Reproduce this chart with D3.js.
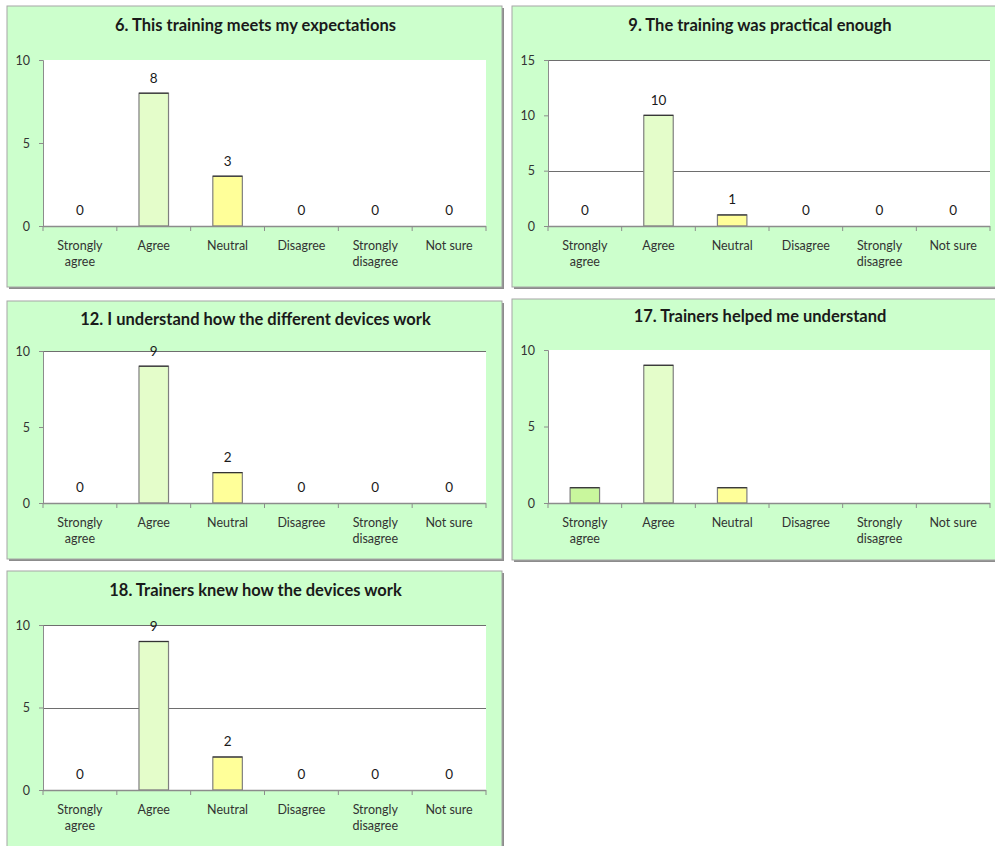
<!DOCTYPE html>
<html>
<head>
<meta charset="utf-8">
<script src="https://cdn.jsdelivr.net/npm/d3@7"></script>
<style>
  html, body { margin: 0; padding: 0; background: #ffffff; }
  svg { display: block; }
</style>
</head>
<body>
<svg id="chart" width="995" height="846"></svg>
<script>
// ---- DATA ----
const categories = ["Strongly agree", "Agree", "Neutral", "Disagree", "Strongly disagree", "Not sure"];
const titles = [
  "6. This training meets my expectations",
  "9. The training was practical enough",
  "12. I understand how the different devices work",
  "17. Trainers helped me understand",
  "18. Trainers knew how the devices work"
];
const values6  = [0, 8, 3, 0, 0, 0];
const values9  = [0, 10, 1, 0, 0, 0];
const values12 = [0, 9, 2, 0, 0, 0];
const values17 = [1, 9, 1, 0, 0, 0];
const values18 = [0, 9, 2, 0, 0, 0];
const yMax = [10, 15, 10, 10, 10];
const yTicks = [[0, 5, 10], [0, 5, 10, 15], [0, 5, 10], [0, 5, 10], [0, 5, 10]];
const gridValues = [[], [5, 15], [10], [], [5, 10]];
const showLabels = [true, true, true, false, true];

// ---- LAYOUT / STYLE ----
const series = [values6, values9, values12, values17, values18];
const panels = [
  {x: 7,   y: 6,   w: 495, h: 281, plot: {l: 43,  r: 486, t: 60,  b: 226}, titleY: 27},
  {x: 512, y: 6,   w: 490, h: 281, plot: {l: 548, r: 990, t: 60,  b: 226}, titleY: 27},
  {x: 7,   y: 301, w: 495, h: 258, plot: {l: 43,  r: 486, t: 351, b: 503}, titleY: 321},
  {x: 512, y: 299, w: 490, h: 261, plot: {l: 548, r: 990, t: 350, b: 503}, titleY: 318},
  {x: 7,   y: 571, w: 495, h: 290, plot: {l: 43,  r: 486, t: 625, b: 790}, titleY: 592}
];
const barColors = ["#c9f79d", "#e4fdca", "#ffff99", "#e4fdca", "#e4fdca", "#e4fdca"];
const FONT = "Lato, 'Open Sans', sans-serif";

function labelLines(s) {
  if (s.length <= 9) return [s];
  const i = s.indexOf(" ");
  return [s.slice(0, i), s.slice(i + 1)];
}

const svg = d3.select("#chart");

panels.forEach((p, i) => {
  const g = svg.append("g");
  // panel background & border with shadow
  g.append("rect").attr("x", p.x + 2).attr("y", p.y + 2).attr("width", p.w).attr("height", p.h)
    .attr("fill", "#8c8c8c");
  g.append("rect").attr("x", p.x).attr("y", p.y).attr("width", p.w).attr("height", p.h)
    .attr("fill", "#ccffcc").attr("stroke", "#a6a6a6").attr("stroke-width", 1);

  // title
  g.append("text").attr("x", (p.plot.l + p.plot.r) / 2 - 9).attr("y", p.titleY)
    .attr("text-anchor", "middle").attr("dominant-baseline", "middle")
    .attr("font-family", FONT).attr("font-weight", "bold").attr("font-size", 16.5)
    .attr("fill", "#1a1a1a").text(titles[i]);

  const x = d3.scaleBand().domain(categories).range([p.plot.l, p.plot.r]).paddingInner(0).paddingOuter(0);
  const y = d3.scaleLinear().domain([0, yMax[i]]).range([p.plot.b, p.plot.t]);

  // plot area
  g.append("rect").attr("x", p.plot.l).attr("y", p.plot.t)
    .attr("width", p.plot.r - p.plot.l).attr("height", p.plot.b - p.plot.t).attr("fill", "#ffffff");

  // gridlines
  g.selectAll(".grid").data(gridValues[i]).enter().append("line")
    .attr("x1", p.plot.l).attr("x2", p.plot.r)
    .attr("y1", d => Math.round(y(d)) + 0.5).attr("y2", d => Math.round(y(d)) + 0.5)
    .attr("stroke", "#6e6e6e").attr("stroke-width", 1.2);

  // bars
  const bw = x.bandwidth() * 0.4;
  const data = series[i].map((v, k) => ({c: categories[k], v: v, k: k}));
  g.selectAll(".bar").data(data.filter(d => d.v > 0)).enter().append("rect")
    .attr("x", d => x(d.c) + (x.bandwidth() - bw) / 2)
    .attr("y", d => y(d.v))
    .attr("width", bw)
    .attr("height", d => y(0) - y(d.v))
    .attr("fill", d => barColors[d.k])
    .attr("stroke", "#7f7f7f").attr("stroke-width", 1.2);
  g.selectAll(".bartop").data(data.filter(d => d.v > 0)).enter().append("line")
    .attr("x1", d => x(d.c) + (x.bandwidth() - bw) / 2)
    .attr("x2", d => x(d.c) + (x.bandwidth() + bw) / 2)
    .attr("y1", d => y(d.v)).attr("y2", d => y(d.v))
    .attr("stroke", "#333333").attr("stroke-width", 1.2);

  // value labels
  if (showLabels[i]) {
    g.selectAll(".vlab").data(data).enter().append("text")
      .attr("x", d => x(d.c) + x.bandwidth() / 2)
      .attr("y", d => y(d.v) - 14)
      .attr("text-anchor", "middle").attr("dominant-baseline", "middle")
      .attr("font-family", FONT).attr("font-size", 13.5).attr("fill", "#1a1a1a")
      .text(d => d.v);
  }

  // y axis
  const yAxis = d3.axisLeft(y).tickValues(yTicks[i]).tickSize(4).tickPadding(9);
  const ya = g.append("g").attr("transform", `translate(${p.plot.l},0)`).call(yAxis);
  ya.select(".domain").attr("stroke", "#8c8c8c");
  ya.selectAll(".tick line").attr("stroke", "#8c8c8c");
  ya.selectAll("text").attr("font-family", FONT).attr("font-size", 12.5).attr("fill", "#333");

  // x axis
  const xa = g.append("g").attr("transform", `translate(0,${p.plot.b})`);
  xa.append("line").attr("x1", p.plot.l).attr("x2", p.plot.r).attr("y1", 0.5).attr("y2", 0.5)
    .attr("stroke", "#8c8c8c").attr("stroke-width", 1.5);
  const bounds = categories.map(c => x(c)).concat([p.plot.r]);
  xa.selectAll(".xt").data(bounds).enter().append("line")
    .attr("x1", d => d).attr("x2", d => d).attr("y1", 0).attr("y2", 5)
    .attr("stroke", "#8c8c8c");
  categories.forEach(c => {
    const t = xa.append("text").attr("x", x(c) + x.bandwidth() / 2).attr("y", 21)
      .attr("text-anchor", "middle").attr("dominant-baseline", "middle")
      .attr("font-family", FONT).attr("font-size", 12.5).attr("fill", "#333");
    labelLines(c).forEach((w, wi) => {
      t.append("tspan").attr("x", x(c) + x.bandwidth() / 2).attr("dy", wi === 0 ? 0 : 16).text(w);
    });
  });
});
</script>
</body>
</html>
